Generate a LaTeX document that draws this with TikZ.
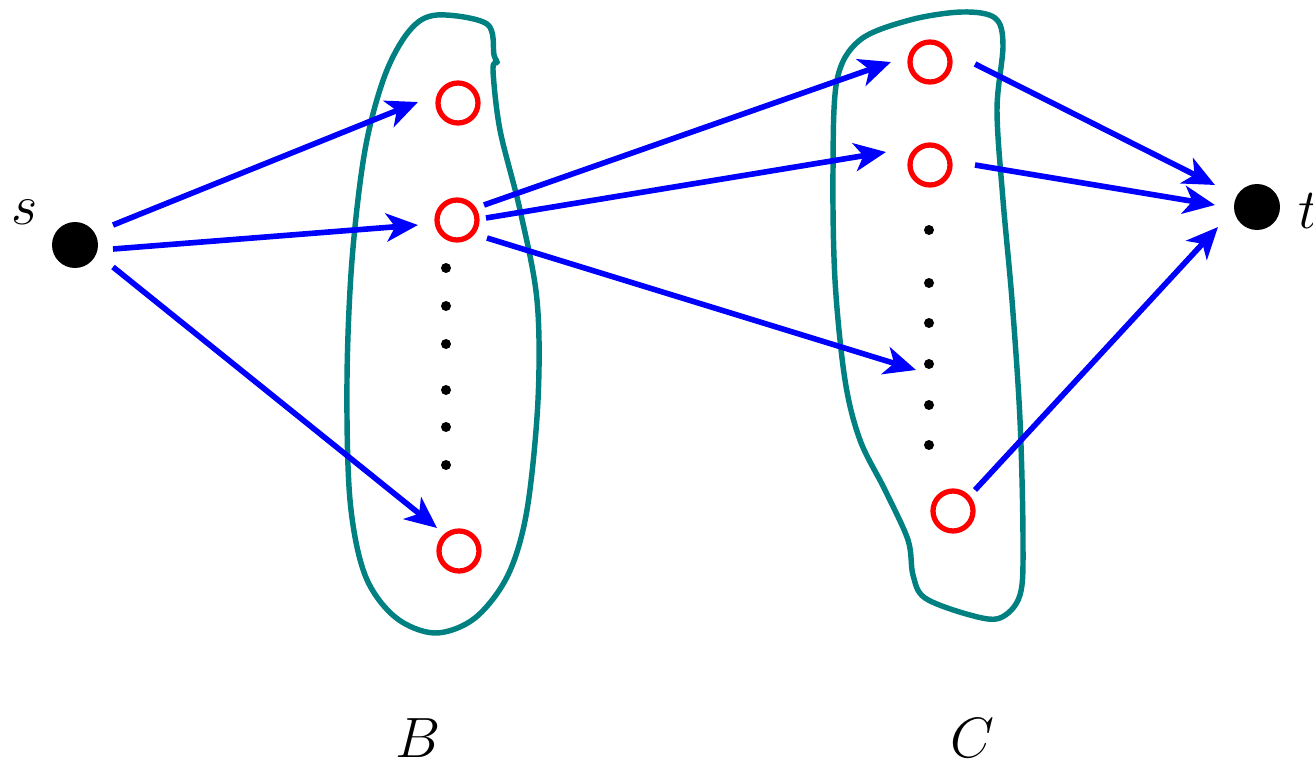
\documentclass[tikz,border=0pt]{standalone}
\usetikzlibrary{arrows.meta,calc}
\definecolor{tealline}{RGB}{0,128,128}
\begin{document}
\begin{tikzpicture}[x=0.02cm,y=-0.02cm,
  blk/.style={circle,fill=black,minimum size=0.92cm,inner sep=0pt},
  red/.style={circle,draw=red,line width=3pt,minimum size=0.8cm,inner sep=0pt},
  dotnode/.style={circle,fill=black,minimum size=0.2cm,inner sep=0pt},
  arr/.style={draw=blue,line width=3.2pt,-{Stealth[length=18pt,width=16pt,inset=5pt]}},
  blob/.style={draw=tealline,line width=3.1pt},
  lab/.style={font=\Huge,inner sep=0pt}]
\useasboundingbox (0,0) rectangle (1313,764);
% blobs
\draw[blob] plot[smooth cycle,tension=0.55] coordinates {(437,15) (487,24) (494,55) (497,62) (493,70) (500,130) (520,210) (537,300) (538,400) (527,510) (508,575) (475,618) (435,633) (395,617) (365,575) (350,500) (347,380) (352,260) (365,150) (385,75) (410,30)};
\draw[blob] plot[smooth cycle,tension=0.55] coordinates {(962,12) (995,18) (1003,45) (997,110) (1003,200) (1012,300) (1020,420) (1023,540) (1020,595) (1000,618) (970,615) (925,598) (913,575) (908,540) (885,490) (860,440) (845,380) (835,280) (833,170) (837,80) (860,40) (910,20)};
% nodes
\node[blk] (s) at (75,245) {};
\node[blk] (t) at (1257,207) {};
\node[red] (b1) at (458,103) {};
\node[red] (b2) at (457,220) {};
\node[red] (b3) at (459,551) {};
\node[red] (c1) at (930,62) {};
\node[red] (c2) at (930,165) {};
\node[red] (c3) at (953,511) {};
\foreach \y [count=\i] in {268,306,344,390,427,465} \node[dotnode] (bd\i) at (446,\y) {};
\foreach \y [count=\i] in {230,283,323,364,405,445} \node[dotnode] (cd\i) at (929,\y) {};
\coordinate (cend) at (916,370);
% labels
\node[lab] (ls) at (25,212) {\scalebox{1.3}{$s$}};
\node[lab,anchor=base west] (lt) at (1298,228) {\scalebox{1.3}{$t$}};
\node[lab,anchor=base] (lB) at (418,757) {\scalebox{1.3}{$B$}};
\node[lab,anchor=base] (lC) at (972,757) {\scalebox{1.3}{$C$}};
% arrows
\draw[arr] ($(s)+(38,-20)$) -- ($(b1)+(-40,-1)$);
\draw[arr] ($(s)+(38,4)$) -- ($(b2)+(-39,5)$);
\draw[arr] ($(s)+(38,22)$) -- ($(b3)+(-22,-23)$);
\draw[arr] ($(b2)+(27,-15)$) -- ($(c1)+(-39,0)$);
\draw[arr] ($(b2)+(29,-2)$) -- ($(c2)+(-44,-13)$);
\draw[arr] ($(b2)+(30,18)$) -- (cend);
\draw[arr] ($(c1)+(45,2)$) -- ($(t)+(-42,-22)$);
\draw[arr] ($(c2)+(45,0)$) -- ($(t)+(-42,-2)$);
\draw[arr] ($(c3)+(22,-21)$) -- ($(t)+(-39,20)$);
\end{tikzpicture}
\end{document}
